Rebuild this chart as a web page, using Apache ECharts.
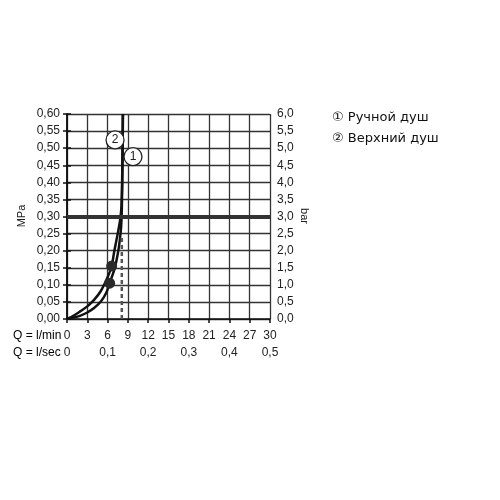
<!DOCTYPE html>
<html>
<head>
<meta charset="utf-8">
<script src="https://cdn.jsdelivr.net/npm/echarts@6/dist/echarts.min.js"></script>
<style>
  html, body { margin: 0; padding: 0; background: #fff; }
  #chart { width: 500px; height: 500px; }
</style>
</head>
<body>
<div id="chart"></div>
<script>
// расход, л/мин -> давление, МПа
var handShower = [[0, 0], [1, 0.004], [2, 0.01], [3, 0.019], [4, 0.032], [5, 0.051], [5.8, 0.077],
  [6.3, 0.105], [7.0, 0.145], [7.5, 0.19], [7.8, 0.23], [8.0, 0.27], [8.1, 0.32], [8.2, 0.45], [8.27, 0.6]]
var overheadShower = [[0, 0], [1, 0.01], [2, 0.023], [3, 0.037], [4, 0.056], [5, 0.082], [6, 0.122],
  [6.6, 0.155], [7.0, 0.2], [7.5, 0.25], [7.85, 0.29], [8.05, 0.33], [8.18, 0.45], [8.25, 0.6]]
var dots = [[6.3, 0.105], [6.6, 0.155]]
var limiter = [[8.1, 0], [8.1, 0.24]]
var refPressure = 0.3
var callouts = [
  { name: '2', coord: [7.1, 0.524] },
  { name: '1', coord: [9.75, 0.475] }
]
var legendItems = ['① Ручной душ', '② Верхний душ']

var fmt = function (d) {
  return function (v) { return v.toFixed(d).replace('.', ',') }
}
var txt = { color: '#222', fontSize: 12, fontFamily: 'Liberation Sans' }

var chart = echarts.init(document.getElementById('chart'))
chart.setOption({
  animation: false,
  grid: { left: 67, right: 230, top: 114, bottom: 181 },
  xAxis: [{
    type: 'value', min: 0, max: 30, interval: 3,
    axisLine: { lineStyle: { color: '#111', width: 1.5 } },
    axisTick: { length: 4, lineStyle: { color: '#111', width: 1.5 } },
    axisLabel: Object.assign({ margin: 11 }, txt),
    splitLine: { lineStyle: { color: '#333', width: 1.3 } }
  }, {
    type: 'value', min: 0, max: 0.5, interval: 0.1, position: 'bottom', offset: 17,
    axisLine: { show: false }, axisTick: { show: false }, splitLine: { show: false },
    axisLabel: Object.assign({ margin: 11, formatter: function (v) { return v === 0 ? '0' : fmt(1)(v) } }, txt)
  }],
  yAxis: [{
    type: 'value', min: 0, max: 0.6, interval: 0.05,
    axisLine: { show: true, lineStyle: { color: '#111', width: 1.5 } },
    axisTick: { show: true, length: 4, lineStyle: { color: '#111', width: 1.5 } },
    axisLabel: Object.assign({ margin: 7, formatter: fmt(2) }, txt),
    splitLine: { lineStyle: { color: '#333', width: 1.3 } }
  }, {
    type: 'value', min: 0, max: 6, interval: 0.5, position: 'right',
    axisLine: { show: true, lineStyle: { color: '#111', width: 1.5 } },
    axisTick: { show: true, length: 4, lineStyle: { color: '#111', width: 1.5 } },
    axisLabel: Object.assign({ margin: 7, formatter: fmt(1) }, txt),
    splitLine: { show: false }
  }],
  series: [{
    name: 'Ручной душ', type: 'line', data: handShower, smooth: 0.3, showSymbol: false,
    lineStyle: { color: '#111', width: 2.5 },
    markLine: {
      silent: true, symbol: 'none', label: { show: false },
      lineStyle: { color: '#333', width: 4, type: 'solid' },
      data: [{ yAxis: refPressure }]
    }
  }, {
    name: 'Верхний душ', type: 'line', data: overheadShower, smooth: 0.3, showSymbol: false,
    lineStyle: { color: '#111', width: 2.5 },
    markPoint: {
      symbol: 'circle', symbolSize: 18,
      itemStyle: { color: '#fff', borderColor: '#222', borderWidth: 1.3 },
      label: { show: true, formatter: '{b}', color: '#222', fontSize: 12, fontFamily: 'Liberation Sans' },
      data: callouts
    }
  }, {
    type: 'line', data: limiter, showSymbol: false,
    lineStyle: { color: '#555', width: 2.5, type: [4, 3] }
  }, {
    type: 'line', data: dots, z: 10, symbol: 'circle', symbolSize: 11, showSymbol: true,
    lineStyle: { width: 0, opacity: 0 },
    itemStyle: { color: '#2a2a2a', borderWidth: 0, opacity: 1 }
  }],
  graphic: [
    { type: 'text', left: 13, top: 330, style: Object.assign({ text: 'Q = l/min' }, txt) },
    { type: 'text', left: 13, top: 347, style: Object.assign({ text: 'Q = l/sec' }, txt) },
    { type: 'text', x: 22, y: 216, rotation: Math.PI / 2,
      style: { text: 'MPa', fill: '#222', fontSize: 11, fontFamily: 'Liberation Sans', align: 'center', verticalAlign: 'middle' } },
    { type: 'text', x: 304, y: 216, rotation: -Math.PI / 2,
      style: { text: 'bar', fill: '#222', fontSize: 11, fontFamily: 'Liberation Sans', align: 'center', verticalAlign: 'middle' } },
    { type: 'text', left: 332, top: 111, style: { text: legendItems[0], fill: '#111', fontSize: 13, fontFamily: 'DejaVu Sans' } },
    { type: 'text', left: 332, top: 132, style: { text: legendItems[1], fill: '#111', fontSize: 13, fontFamily: 'DejaVu Sans' } }
  ]
})
</script>
</body>
</html>
